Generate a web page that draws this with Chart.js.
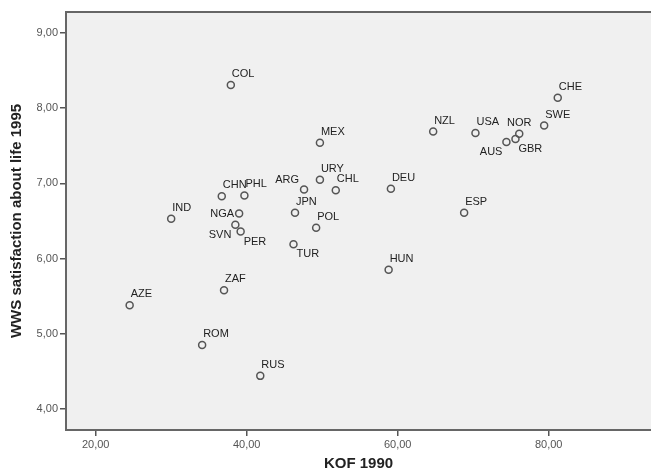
<!DOCTYPE html>
<html>
<head>
<meta charset="utf-8">
<script src="https://cdn.jsdelivr.net/npm/chart.js@4.4.0/dist/chart.umd.min.js"></script>
<style>
  html, body { margin: 0; padding: 0; background: #fff; }
  #wrap { width: 651px; height: 473px; }
</style>
</head>
<body>
<div id="wrap"><canvas id="grafico" width="651" height="473"></canvas></div>
<script>
// datos
const paises = ['COL','MEX','URY','ARG','CHL','DEU','CHN','PHL','JPN','NGA','POL','SVN','PER','IND','TUR','HUN','ZAF','AZE','ROM','RUS','NZL','USA','NOR','GBR','AUS','SWE','CHE','ESP'];
const kof1990 = [37.9, 49.7, 49.7, 47.6, 51.8, 59.1, 36.7, 39.7, 46.4, 39.0, 49.2, 38.5, 39.2, 30.0, 46.2, 58.8, 37.0, 24.5, 34.1, 41.8, 64.7, 70.3, 76.1, 75.6, 74.4, 79.4, 81.2, 68.8];
const satisfaccion = [8.31, 7.54, 7.05, 6.92, 6.91, 6.93, 6.83, 6.84, 6.61, 6.60, 6.41, 6.45, 6.36, 6.53, 6.19, 5.85, 5.58, 5.38, 4.85, 4.44, 7.69, 7.67, 7.66, 7.59, 7.55, 7.77, 8.14, 6.61];
const ticksX = [20, 40, 60, 80];
const ticksY = [4, 5, 6, 7, 8, 9];

// donde va cada etiqueta respecto al punto (por defecto arriba a la derecha)
const posEtiqueta = {
  NGA: 'izq', SVN: 'abajoIzq', PER: 'abajoDer', TUR: 'abajoDer',
  AUS: 'abajoIzq', GBR: 'abajoDer', NOR: 'arriba', ARG: 'arribaIzq'
};

const fuente = '"Liberation Sans", Arial, sans-serif';
const puntos = kof1990.map((x, i) => ({ x: x, y: satisfaccion[i] }));

// fondo gris y borde superior del area
const fondoPlugin = {
  id: 'fondo',
  beforeDraw(chart) {
    const { ctx, chartArea: a } = chart;
    ctx.save();
    ctx.fillStyle = '#f0f0f0';
    ctx.fillRect(a.left, a.top, a.right - a.left, a.bottom - a.top);
    ctx.strokeStyle = '#666';
    ctx.lineWidth = 2;
    ctx.beginPath();
    ctx.moveTo(a.left, a.top);
    ctx.lineTo(a.right, a.top);
    ctx.stroke();
    ctx.restore();
  }
};

const etiquetasPlugin = {
  id: 'etiquetas',
  afterDatasetsDraw(chart) {
    const ctx = chart.ctx;
    const meta = chart.getDatasetMeta(0);
    ctx.save();
    ctx.font = '11px ' + fuente;
    ctx.fillStyle = '#222';
    ctx.textBaseline = 'middle';
    meta.data.forEach((el, i) => {
      const nombre = paises[i];
      const pos = posEtiqueta[nombre] || 'arribaDer';
      let tx = el.x + 1, ty = el.y - 11;
      ctx.textAlign = 'left';
      if (pos === 'izq') { ctx.textAlign = 'right'; tx = el.x - 5; ty = el.y; }
      if (pos === 'abajoIzq') { ctx.textAlign = 'right'; tx = el.x - 4; ty = el.y + 10; }
      if (pos === 'abajoDer') { tx = el.x + 3; ty = el.y + 10; }
      if (pos === 'arriba') { ctx.textAlign = 'center'; tx = el.x; ty = el.y - 11; }
      if (pos === 'arribaIzq') { ctx.textAlign = 'right'; tx = el.x - 5; ty = el.y - 9; }
      ctx.fillText(nombre, tx, ty);
    });
    ctx.restore();
  }
};

const formato = v => v.toFixed(2).replace('.', ',');

new Chart(document.getElementById('grafico').getContext('2d'), {
  type: 'scatter',
  data: {
    datasets: [{
      data: puntos,
      pointStyle: 'circle',
      pointRadius: 3.5,
      pointBorderWidth: 1.5,
      pointBorderColor: '#555',
      pointBackgroundColor: 'rgba(0,0,0,0)'
    }]
  },
  options: {
    responsive: false,
    animation: false,
    layout: { autoPadding: false, padding: { top: 12, right: 0, left: 0, bottom: 0 } },
    plugins: {
      legend: { display: false },
      tooltip: { enabled: false }
    },
    scales: {
      x: {
        type: 'linear',
        min: 16.07,
        max: 93.55,
        afterBuildTicks: s => { s.ticks = ticksX.map(v => ({ value: v })); },
        afterFit: s => { s.height = 43; s.paddingLeft = 0; s.paddingRight = 0; },
        grid: { drawOnChartArea: false, drawTicks: true, tickLength: 6, color: '#555', lineWidth: 1.5 },
        border: { display: true, color: '#666', width: 2 },
        ticks: { callback: formato, color: '#555', font: { family: fuente, size: 11 }, padding: 2, maxRotation: 0 },
        title: { display: true, text: 'KOF 1990', color: '#222', font: { family: fuente, size: 15, weight: 'bold' }, padding: { top: 1, bottom: 0 } }
      },
      y: {
        type: 'linear',
        min: 3.72,
        max: 9.28,
        afterBuildTicks: s => { s.ticks = ticksY.map(v => ({ value: v })); },
        afterFit: s => { s.width = 66; },
        grid: { drawOnChartArea: false, drawTicks: true, tickLength: 6, color: '#555', lineWidth: 1.5 },
        border: { display: true, color: '#666', width: 2 },
        ticks: { callback: formato, color: '#555', font: { family: fuente, size: 11 }, padding: 2 },
        title: { display: true, text: 'WWS satisfaction about life 1995', color: '#222', font: { family: fuente, size: 15, weight: 'bold' }, padding: { top: 8, bottom: 2 } }
      }
    }
  },
  plugins: [fondoPlugin, etiquetasPlugin]
});
</script>
</body>
</html>
